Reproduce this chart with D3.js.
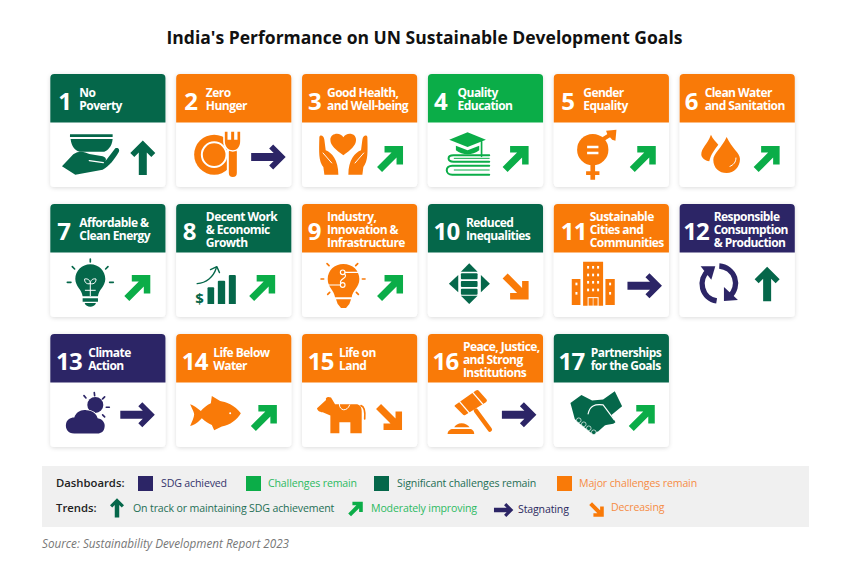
<!DOCTYPE html>
<html>
<head>
<meta charset="utf-8">
<script src="https://cdn.jsdelivr.net/npm/d3@7/dist/d3.min.js"></script>
<style>
  html, body { margin: 0; padding: 0; background: #fff; }
  text { font-family: "Open Sans", sans-serif; }
</style>
</head>
<body>
<script>
// chart values
let goalNumbers = [1, 2, 3, 4, 5, 6, 7, 8, 9, 10, 11, 12, 13, 14, 15, 16, 17]
let goalLabels = [
  ['No', 'Poverty'], ['Zero', 'Hunger'], ['Good Health,', 'and Well-being'],
  ['Quality', 'Education'], ['Gender', 'Equality'], ['Clean Water', 'and Sanitation'],
  ['Affordable &', 'Clean Energy'], ['Decent Work', '& Economic', 'Growth'], ['Industry,', 'Innovation &', 'Infrastructure'],
  ['Reduced', 'Inequalities'], ['Sustainable', 'Cities and', 'Communities'], ['Responsible', 'Consumption', '& Production'],
  ['Climate', 'Action'], ['Life Below', 'Water'], ['Life on', 'Land'],
  ['Peace, Justice,', 'and Strong', 'Institutions'], ['Partnerships', 'for the Goals']
]
let goalStatus = ['significant', 'major', 'major', 'challenges', 'major', 'major', 'significant', 'significant', 'major',
  'significant', 'major', 'achieved', 'achieved', 'major', 'major', 'major', 'significant']
let goalTrend = ['onTrack', 'stagnating', 'improving', 'improving', 'improving', 'improving', 'improving', 'improving', 'improving',
  'decreasing', 'stagnating', 'onTrack', 'stagnating', 'improving', 'decreasing', 'stagnating', 'improving']

let dashboardKeys = ['achieved', 'challenges', 'significant', 'major']
let dashboardNames = ['SDG achieved', 'Challenges remain', 'Significant challenges remain', 'Major challenges remain']
let trendKeys = ['onTrack', 'improving', 'stagnating', 'decreasing']
let trendNames = ['On track or maintaining SDG achievement', 'Moderately improving', 'Stagnating', 'Decreasing']

// layout and style
let statusColor = d3.scaleOrdinal().domain(dashboardKeys).range(['#2c2566', '#0bad48', '#05674a', '#f97a08'])
let trendColor = d3.scaleOrdinal().domain(trendKeys).range(['#05674a', '#0bad48', '#2c2566', '#f97a08'])
let dashTextColor = d3.scaleOrdinal().domain(dashboardKeys).range(['#34346c', '#2dba62', '#1f6f55', '#f68c45'])
let trendTextColor = d3.scaleOrdinal().domain(trendKeys).range(['#1f6f55', '#2dba62', '#2c2a60', '#f68c45'])

let numberX = [8, 8, 6, 6, 7.5, 5, 7, 6.7, 5.7, 5.7, 7, 3.5, 5.7, 5.7, 5.7, 4.7, 4.7]
let labelX = [29, 29.7, 25, 29.7, 29.5, 25, 29, 29.7, 25, 38, 36, 34, 38, 37, 37, 35, 37]
let arrowX = [92.5, 92, 88, 87.7, 89, 87, 87, 86, 88, 87.7, 90.7, 87.5, 87, 87.7, 87, 91, 88]
let arrowY = [84, 83, 85, 85, 85, 85, 84, 84, 84, 82.5, 81.8, 80.3, 80.7, 84, 83, 80.7, 84]

let x = d3.scaleBand().domain(d3.range(6)).range([50.3, 794.8]).paddingInner(0.085)
let y = d3.scaleBand().domain(d3.range(3)).range([74, 447]).paddingInner(0.13)
let headerH = 48.5

let svg = d3.select('body').append('svg')
  .attr('width', 846)
  .attr('height', 575)
  .style('display', 'block')

let defs = svg.append('defs')
let shadow = defs.append('filter').attr('id', 'card-shadow')
  .attr('x', '-10%').attr('y', '-10%').attr('width', '120%').attr('height', '120%')
shadow.append('feDropShadow')
  .attr('dx', 0).attr('dy', 1)
  .attr('stdDeviation', 2)
  .attr('flood-color', '#000')
  .attr('flood-opacity', 0.14)

svg.append('text')
  .attr('x', 424.5)
  .attr('y', 44)
  .attr('text-anchor', 'middle')
  .attr('font-size', 17.5)
  .attr('font-weight', 700)
  .attr('fill', '#111')
  .text("India's Performance on UN Sustainable Development Goals")

// trend arrow drawn around its own centre
function arrow(g, kind, cx, cy, k) {
  let straight = 'M0,-17.5L12.5,-5L8.5,-1L4,-5.5V17H-4V-5.5L-8.5,-1L-12.5,-5Z'
  let diagonal = 'M13,-13V5.5H6.5V-1.5L-8,13L-13,8L1.5,-6.5H-5.5V-13Z'
  let d = (kind == 'onTrack' || kind == 'stagnating') ? straight : diagonal
  let turn = (kind == 'stagnating' || kind == 'decreasing') ? 90 : 0
  g.append('path')
    .attr('d', d)
    .attr('fill', trendColor(kind))
    .attr('transform', `translate(${cx},${cy}) rotate(${turn}) scale(${k})`)
}

function fillPath(g, d, fill) {
  return g.append('path').attr('d', d).attr('fill', fill)
}
function strokePath(g, d, color, w) {
  return g.append('path').attr('d', d).attr('fill', 'none').attr('stroke', color)
    .attr('stroke-width', w).attr('stroke-linecap', 'round').attr('stroke-linejoin', 'round')
}
function rays(g, list, color, w) {
  list.forEach(r => strokePath(g, `M${r[0]},${r[1]}L${r[2]},${r[3]}`, color, w))
}

// goal pictograms, traced in 3x pixels of the picture, o is where the card corner sits
let pictograms = [
  { o: [33, 43], draw: (g, c) => {
    fillPath(g, 'M92,224H220V232H92Z', c)
    fillPath(g, 'M94,238H220C218,260 206,272 195,276H120C105,271 96,258 94,238Z', c)
    fillPath(g, 'M68,320L102,284C118,272 135,275 150,283L190,290C200,293 202,300 198,305L228,266C236,262 243,270 238,278C225,300 210,320 190,330L108,345Z', c)
    strokePath(g, 'M150,303L192,309', '#fff', 4)
  } },
  { o: [408, 43], draw: (g, c) => {
    g.append('circle').attr('cx', 522).attr('cy', 285).attr('r', 60).attr('fill', c)
    g.append('circle').attr('cx', 522).attr('cy', 285).attr('r', 37).attr('fill', c).attr('stroke', '#fff').attr('stroke-width', 6)
    strokePath(g, 'M578,270L578,340', '#fff', 36)
    strokePath(g, 'M578,278L578,340', c, 24)
    strokePath(g, 'M557,222V245C557,262 570,268 578,268C588,268 598,258 598,245V222', '#fff', 16)
    fillPath(g, 'M554,216H562V240H573V216H582V240H592V216H600V245C600,262 590,272 578,272C565,272 554,262 554,245Z', c)
  } },
  { o: [783, 43], draw: (g, c) => {
    fillPath(g, 'M907,287C885,270 868,258 868,240C868,228 878,222 888,222C896,222 903,226 907,233C911,226 918,222 926,222C936,222 945,228 945,240C945,258 929,270 907,287Z', c)
    let hand = 'M835,232C838,224 848,228 850,240L854,272C872,278 892,302 892,345H850L847,322C835,305 833,290 835,232Z'
    fillPath(g, hand, c)
    fillPath(g, hand, c).attr('transform', 'translate(1814,0) scale(-1,1)')
    strokePath(g, 'M846,280L872,310', '#fff', 3)
    strokePath(g, 'M968,280L942,310', '#fff', 3)
  } },
  { o: [21, 43], draw: (g, c) => {
    fillPath(g, 'M85,240L140,218L195,240L140,262Z', c)
    fillPath(g, 'M105,258V272C125,288 155,288 175,272V258L140,272Z', c)
    strokePath(g, 'M182,246V290', c, 5)
    strokePath(g, 'M205,287H98C78,287 78,306 98,306H205', c, 6)
    strokePath(g, 'M205,318H94C72,318 72,345 94,345H205', c, 6)
    strokePath(g, 'M205,296H100', c, 3)
    strokePath(g, 'M205,331H100', c, 3)
  } },
  { o: [400, 43], draw: (g, c) => {
    g.append('circle').attr('cx', 517).attr('cy', 270).attr('r', 47).attr('fill', c)
    fillPath(g, 'M500,258H534V266H500ZM500,276H534V284H500Z', '#fff')
    strokePath(g, 'M545,240L578,220', c, 12)
    fillPath(g, 'M557,213L588,210L585,243L575,240L560,222Z', c)
    fillPath(g, 'M510,312H524V335H537V346H524V360H510V346H497V335H510Z', c)
  } },
  { o: [779, 43], draw: (g, c) => {
    fillPath(g, 'M873,225C862,255 843,265 844,285C845,295 855,302 868,305C872,285 885,268 895,255C888,245 878,238 873,225Z', c)
    fillPath(g, 'M920,232C905,265 880,282 880,300C880,325 898,340 920,340C942,340 960,322 960,298C960,280 935,265 920,232Z', c)
    strokePath(g, 'M948,295C948,308 940,316 930,320', '#fff', 3)
  } },
  { o: [33, 25], draw: (g, c) => {
    fillPath(g, 'M153,206C128,206 108,226 108,250C108,272 128,282 130,302H176C178,282 198,272 198,250C198,226 178,206 153,206Z', c)
    fillPath(g, 'M130,308H176V318H130ZM136,322H170C168,330 160,333 153,333C146,333 138,330 136,322Z', c)
    strokePath(g, 'M153,262V300', '#fff', 3)
    strokePath(g, 'M153,264C140,268 135,257 136,250C146,248 153,254 153,264C153,254 160,248 170,250C171,257 166,268 153,264', '#fff', 3)
    strokePath(g, 'M138,284H168', '#fff', 3)
    rays(g, [[153, 190, 153, 199], [99, 213, 106, 220], [206, 213, 199, 220], [84, 260, 95, 260], [222, 260, 211, 260]], c, 5)
  } },
  { o: [408, 25], draw: (g, c) => {
    fillPath(g, 'M502,278C502,276 504,275 506,275H518C520,275 522,276 522,278V325H502Z', c)
    fillPath(g, 'M533,258C533,256 535,255 537,255H551C553,255 555,256 555,258V325H533Z', c)
    fillPath(g, 'M566,241C566,239 568,238 570,238H583C585,238 587,239 587,241V325H566Z', c)
    strokePath(g, 'M471,264C498,262 520,244 528,218', c, 4)
    strokePath(g, 'M511,222L530,213L538,231', c, 4)
    g.append('text')
      .attr('x', 478).attr('y', 326)
      .attr('text-anchor', 'middle')
      .attr('font-size', 45)
      .attr('font-weight', 700)
      .attr('fill', c)
      .text('$')
  } },
  { o: [783, 25], draw: (g, c) => {
    fillPath(g, 'M907,205C880,205 860,225 860,250C860,275 880,285 882,305H932C934,285 955,275 955,250C955,225 935,205 907,205Z', c)
    fillPath(g, 'M885,311H930L925,325L915,337H900L890,325Z', c)
    g.append('circle').attr('cx', 905).attr('cy', 230).attr('r', 7).attr('fill', 'none').attr('stroke', '#fff').attr('stroke-width', 3.5)
    g.append('circle').attr('cx', 905).attr('cy', 268).attr('r', 7).attr('fill', 'none').attr('stroke', '#fff').attr('stroke-width', 3.5)
    strokePath(g, 'M912,230H956', '#fff', 3.5)
    strokePath(g, 'M898,268H859', '#fff', 3.5)
    strokePath(g, 'M911,235C922,248 892,250 899,263', '#fff', 3.5)
    rays(g, [[858, 204, 864, 210], [840, 250, 848, 250], [860, 296, 866, 290], [950, 204, 944, 210], [972, 250, 964, 250], [952, 296, 946, 290]], c, 5)
  } },
  { o: [21, 25], draw: (g, c) => {
    fillPath(g, 'M145,203L170,228H120Z', c)
    fillPath(g, 'M145,325L170,300H120Z', c)
    fillPath(g, 'M84,264L112,238V290Z', c)
    fillPath(g, 'M207,264L180,238V290Z', c)
    g.selectAll('rect.band').data([233, 256, 279]).enter().append('rect')
      .attr('x', 120).attr('y', d => d)
      .attr('width', 50).attr('height', 18)
      .attr('rx', 3)
      .attr('fill', c)
  } },
  { o: [402, 25], draw: (g, c) => {
    fillPath(g, 'M490,198H550V330H490ZM456,250H482V328H456ZM557,250H585V328H557Z', c)
    d3.cross([505, 520, 535], [215, 238, 260, 283]).forEach(p => {
      g.append('rect').attr('x', p[0] - 3).attr('y', p[1] - 4).attr('width', 6).attr('height', 8).attr('fill', '#fff')
    })
    d3.cross([470, 571], [265, 293]).forEach(p => {
      g.append('rect').attr('x', p[0] - 3).attr('y', p[1] - 4).attr('width', 6).attr('height', 8).attr('fill', '#fff')
    })
    g.append('rect').attr('x', 505).attr('y', 306).attr('width', 30).attr('height', 26).attr('fill', 'none').attr('stroke', '#fff').attr('stroke-width', 3)
    g.append('rect').attr('x', 519).attr('y', 306).attr('width', 2).attr('height', 26).attr('fill', '#fff')
  } },
  { o: [775, 25], draw: (g, c) => {
    g.append('path').attr('d', 'M886,316A52,52 0 0 1 862,224').attr('fill', 'none').attr('stroke', c).attr('stroke-width', 16)
    fillPath(g, 'M838,212H882L870,252Z', c)
    g.append('path').attr('d', 'M894,211A52,52 0 0 1 925,302').attr('fill', 'none').attr('stroke', c).attr('stroke-width', 16)
    fillPath(g, 'M908,274L950,313L908,316Z', c)
  } },
  { o: [33, 27], draw: (g, c) => {
    g.append('circle').attr('cx', 168).attr('cy', 240).attr('r', 24).attr('fill', c)
    rays(g, [[165, 203, 166, 212], [134, 212, 140, 219], [196, 216, 190, 222], [210, 247, 201, 247], [196, 276, 190, 270]], c, 5)
    fillPath(g, 'M105,326C85,326 78,310 80,298C82,285 92,278 105,278C110,262 125,253 142,256C160,256 172,268 175,280C190,282 198,295 196,305C195,320 185,326 175,326Z', c)
      .attr('stroke', '#fff').attr('stroke-width', 5).attr('paint-order', 'stroke')
  } },
  { o: [408, 27], draw: (g, c) => {
    fillPath(g, 'M602,265C585,240 555,230 540,228L515,213L512,235C500,240 490,250 482,258C470,250 460,240 450,238C455,250 462,262 462,268C462,278 455,290 450,303C465,300 475,290 485,280C495,290 505,295 515,300L522,316L545,305C570,300 590,285 602,265Z', c)
    g.append('circle').attr('cx', 570).attr('cy', 265).attr('r', 3).attr('fill', '#fff')
  } },
  { o: [783, 27], draw: (g, c) => {
    fillPath(g, 'M828,250L855,225C852,218 860,213 870,218L882,238H945C955,238 962,245 962,258V325H928V292H895V325H868V272L845,262C835,262 828,255 828,250Z', c)
    strokePath(g, 'M960,242C970,245 973,260 971,282', c, 5)
    strokePath(g, 'M895,238C895,258 918,262 926,240', '#fff', 3)
  } },
  { o: [21, 25], draw: (g, c) => {
    fillPath(g, 'M103,238L165,195C168,193 171,193 173,195L197,222C199,225 198,228 195,230L133,268C130,270 128,269 126,267L102,243C100,241 101,240 103,238Z', c)
    strokePath(g, 'M114,226L145,262', '#fff', 4)
    strokePath(g, 'M154,199L185,235', '#fff', 4)
    strokePath(g, 'M165,255L207,312', c, 13)
    fillPath(g, 'M100,305C103,298 112,293 122,293C132,293 142,298 146,305Z', c)
    fillPath(g, 'M80,325C80,316 88,310 96,310H146C154,310 160,316 160,325Z', c)
  } },
  { o: [397, 25], draw: (g, c) => {
    fillPath(g, 'M447,232L480,208L512,225L545,222L580,197L602,242L570,268L582,290C575,298 560,295 550,300L530,318L510,322L470,290L460,280Z', c)
    strokePath(g, 'M500,265C505,240 520,235 545,238L578,282', '#fff', 3.5)
    d3.range(4).forEach(i => {
      g.append('circle').attr('cx', 472 + i * 15).attr('cy', 284 + i * 12).attr('r', 7).attr('fill', c)
        .attr('stroke', '#fff').attr('stroke-width', 2)
    })
  } }
]

let cards = svg.selectAll('g.card')
  .data(goalNumbers)
  .enter().append('g')
  .attr('class', 'card')
  .attr('transform', (d, i) => `translate(${x(i % 6)},${y(Math.floor(i / 6))})`)

cards.append('rect')
  .attr('width', x.bandwidth())
  .attr('height', y.bandwidth())
  .attr('rx', 4)
  .attr('fill', '#fff')
  .attr('filter', 'url(#card-shadow)')

cards.append('path')
  .attr('d', `M0,${headerH}V4Q0,0 4,0H${x.bandwidth() - 4}Q${x.bandwidth()},0 ${x.bandwidth()},4V${headerH}Z`)
  .attr('fill', (d, i) => statusColor(goalStatus[i]))

cards.append('text')
  .attr('x', (d, i) => numberX[i])
  .attr('y', 36)
  .attr('font-size', 24)
  .attr('font-weight', 700)
  .attr('letter-spacing', -0.8)
  .attr('fill', '#fff')
  .text(d => d)

cards.each(function (d, i) {
  let lines = goalLabels[i]
  let label = d3.select(this).append('text')
    .attr('font-size', 12)
    .attr('font-weight', 700)
    .attr('letter-spacing', -0.55)
    .attr('fill', '#fff')
  lines.forEach((t, j) => {
    label.append('tspan')
      .attr('x', labelX[i])
      .attr('y', headerH / 2 + 5.5 + (j - (lines.length - 1) / 2) * 13)
      .text(t)
  })

  let art = d3.select(this).append('g')
    .attr('transform', `scale(${1 / 3}) translate(${-pictograms[i].o[0]},${-pictograms[i].o[1]})`)
  pictograms[i].draw(art, statusColor(goalStatus[i]))

  arrow(d3.select(this), goalTrend[i], arrowX[i], arrowY[i], 1)
})

// legend
svg.append('rect')
  .attr('x', 42).attr('y', 466)
  .attr('width', 767).attr('height', 61)
  .attr('fill', '#f0f0f0')

let legendFont = 10.6

svg.append('text').attr('x', 56).attr('y', 487)
  .attr('font-size', 11.3).attr('font-weight', 600).attr('fill', '#222').text('Dashboards:')
svg.append('text').attr('x', 56).attr('y', 512)
  .attr('font-size', 11.3).attr('font-weight', 600).attr('fill', '#222').text('Trends:')

let swatchX = [138, 246, 374, 557]
let swatchTextX = [161, 268, 397, 579]
dashboardKeys.forEach((k, i) => {
  svg.append('rect')
    .attr('x', swatchX[i]).attr('y', 476)
    .attr('width', 15).attr('height', 15)
    .attr('fill', statusColor(k))
  svg.append('text')
    .attr('x', swatchTextX[i]).attr('y', 487)
    .attr('font-size', legendFont)
    .attr('letter-spacing', -0.15)
    .attr('fill', dashTextColor(k))
    .text(dashboardNames[i])
})

let trendIconX = [117, 355.5, 503.5, 596.5]
let trendIconY = [508, 509, 510, 509.5]
let trendTextX = [133, 371, 518, 611]
let trendTextY = [512, 511.7, 513, 511]
trendKeys.forEach((k, i) => {
  arrow(svg, k, trendIconX[i], trendIconY[i], 0.56)
  svg.append('text')
    .attr('x', trendTextX[i]).attr('y', trendTextY[i])
    .attr('font-size', legendFont)
    .attr('letter-spacing', -0.15)
    .attr('fill', trendTextColor(k))
    .text(trendNames[i])
})

svg.append('text')
  .attr('x', 42).attr('y', 548)
  .attr('font-size', 11.7)
  .attr('font-style', 'italic')
  .attr('fill', '#777')
  .text('Source: Sustainability Development Report 2023')
</script>
</body>
</html>
